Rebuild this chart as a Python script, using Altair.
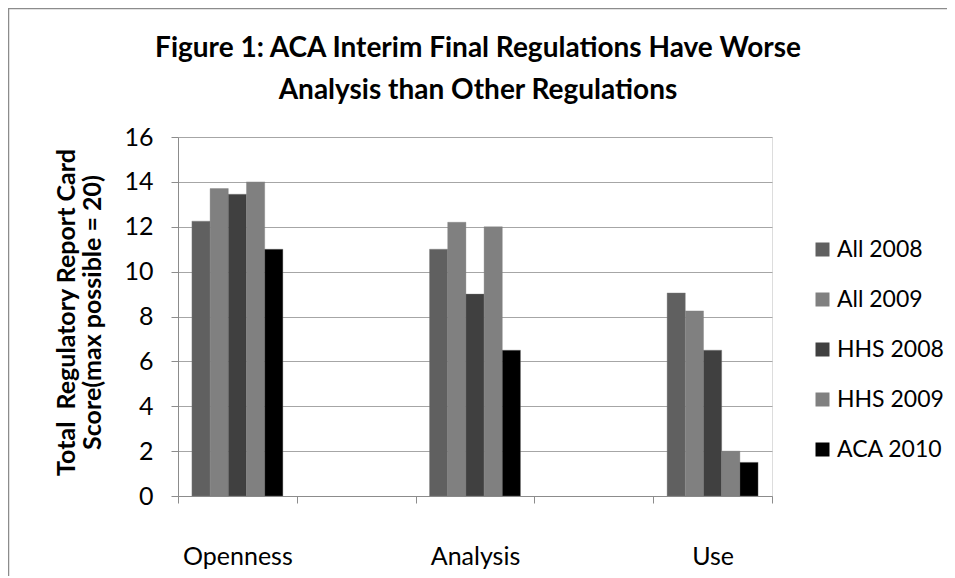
import altair as alt
import pandas as pd

title_lines = ["Figure 1: ACA Interim Final Regulations Have Worse", "Analysis than Other Regulations"]
y_title = ["Total\u00a0 Regulatory Report Card", "Score(max possible = 20)"]
categories = ["Openness", "Analysis", "Use"]
axis_slots = ["Openness", "gap1", "Analysis", "gap2", "Use"]
series = ["All 2008", "All 2009", "HHS 2008", "HHS 2009", "ACA 2010"]
colors = ["#606060", "#808080", "#404040", "#808080", "#000000"]

all_2008 = [12.25, 11.0, 9.05]
all_2009 = [13.7, 12.2, 8.25]
hhs_2008 = [13.45, 9.0, 6.5]
hhs_2009 = [14.0, 12.0, 2.0]
aca_2010 = [11.0, 6.5, 1.5]

values = [all_2008, all_2009, hhs_2008, hhs_2009, aca_2010]
rows = []
for s, vals in zip(series, values):
    for c, v in zip(categories, vals):
        rows.append({"category": c, "series": s, "score": v})
df = pd.DataFrame(rows)

FONT = "Lato"
W, H = 594, 359

bars = alt.Chart(df).mark_bar(stroke="#7a7a7a", strokeWidth=0.6, strokeOpacity=0.6).encode(
    x=alt.X("category:N",
            scale=alt.Scale(domain=axis_slots, paddingInner=0, paddingOuter=0),
            axis=alt.Axis(title=None, labelExpr="indexof(datum.label, 'gap') == 0 ? '' : datum.label",
                          tickBand="extent", ticks=True, tickSize=7, tickColor="#8c8c8c",
                          domainColor="#8c8c8c", labelPadding=41, labelFontSize=25,
                          labelFont=FONT, labelColor="#000", labelAngle=0, grid=False)),
    xOffset=alt.XOffset("series:N", sort=series,
                        scale=alt.Scale(paddingInner=0, paddingOuter=0.765)),
    y=alt.Y("score:Q",
            scale=alt.Scale(domain=[0, 16], nice=False),
            axis=alt.Axis(values=[0, 2, 4, 6, 8, 10, 12, 14, 16],
                          title=y_title,
                          titleFont=FONT, titleFontSize=25, titleFontWeight="bold",
                          titleColor="#000", titleLineHeight=26,
                          titleX=-104, titleY=175, titleAlign="center",
                          titleBaseline="alphabetic", titleAngle=270,
                          labelFont=FONT, labelFontSize=25, labelColor="#000",
                          labelPadding=18, tickSize=7, tickColor="#8c8c8c",
                          domainColor="#8c8c8c", gridColor="#a6a6a6", gridWidth=1.2)),
    color=alt.Color("series:N", sort=series,
                    scale=alt.Scale(domain=series, range=colors),
                    legend=alt.Legend(title=None, orient="none", legendX=633, legendY=101,
                                      padding=0,
                                      symbolType="square", symbolSize=196,
                                      symbolStrokeWidth=0, rowPadding=26,
                                      labelFont=FONT, labelFontSize=23, labelColor="#000",
                                      labelOffset=3)),
)

one = pd.DataFrame({"line1": [title_lines[0]], "line2": [title_lines[1]]})

border = alt.Chart(one).mark_rect(fill=None, stroke="#8c8c8c", strokeWidth=1.5, clip=False).encode(
    x=alt.value(-169.5), x2=alt.value(W + 400), y=alt.value(-128.5), y2=alt.value(H + 300)
)

title1 = alt.Chart(one).mark_text(font=FONT, fontSize=28, fontWeight="bold", color="#000",
                                  align="center", baseline="alphabetic").encode(
    x=alt.value(W / 2 + 3), y=alt.value(-80.3), text="line1:N")
title2 = alt.Chart(one).mark_text(font=FONT, fontSize=28, fontWeight="bold", color="#000",
                                  align="center", baseline="alphabetic").encode(
    x=alt.value(W / 2 + 3), y=alt.value(-37.7), text="line2:N")

chart = alt.layer(border, bars, title1, title2).properties(
    width=W, height=H,
    autosize=alt.AutoSizeParams(type="none"),
    padding={"left": 170, "top": 129, "right": 175, "bottom": 80},
).configure_view(stroke=None).configure(background="white")

chart.save("out.html", embed_options={"renderer": "svg", "actions": False})
